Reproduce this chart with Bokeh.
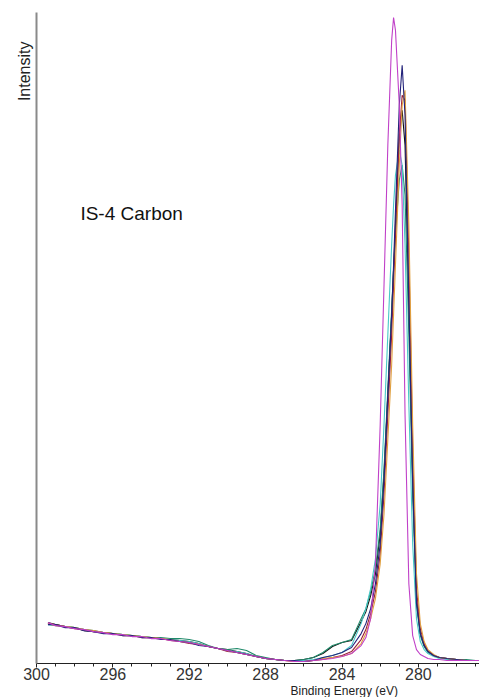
from bokeh.plotting import figure
from bokeh.models import Range1d, FixedTicker, Label, Title
from bokeh.embed import file_html
from bokeh.resources import INLINE

binding_energy = [299.4, 299.0, 298.5, 298.0, 297.5, 297.0, 296.5, 296.0, 295.5, 295.0,
                  294.5, 294.0, 293.5, 293.0, 292.5, 292.0, 291.5, 291.0, 290.5, 290.0,
                  289.5, 289.0, 288.5, 288.0, 287.5, 287.0, 286.5, 286.0, 285.5, 285.0,
                  284.5, 284.0, 283.5, 283.0, 282.75, 282.5, 282.25, 282.0, 281.8, 281.6,
                  281.4, 281.3, 281.2, 281.0, 280.85, 280.7, 280.5, 280.3, 280.1, 279.9,
                  279.7, 279.5, 279.2, 278.9, 278.5, 278.0, 277.5, 277.0, 276.8]

black = [41, 39, 37, 36, 33, 32, 31, 30, 29, 28, 27, 26, 25, 24, 23, 22, 20, 17, 15, 14,
         12, 10, 7, 5, 4, 3, 3, 4, 6, 10, 17, 21, 23, 42, 52, 68, 90, 130, 190, 270,
         350, 395, 440, 530, 555, 520, 360, 185, 65, 30, 18, 12, 8, 6, 5, 4, 3, 3, 3]
green = [40, 39, 37, 36, 34, 33, 31, 30, 29, 28, 27, 26, 26, 25, 25, 24, 22, 18, 15, 14,
         15, 13, 8, 6, 4, 3, 3, 4, 6, 11, 18, 21, 24, 45, 55, 72, 95, 135, 195, 275,
         355, 395, 430, 485, 500, 470, 330, 170, 60, 28, 17, 11, 8, 6, 5, 4, 4, 3, 3]
cyan = [39, 38, 37, 36, 34, 32, 31, 30, 29, 28, 27, 26, 25, 24, 23, 22, 20, 17, 15, 13,
        12, 10, 7, 5, 4, 3, 3, 3, 4, 6, 8, 11, 18, 40, 55, 75, 105, 160, 240, 330,
        420, 460, 490, 515, 500, 420, 260, 120, 45, 22, 14, 10, 7, 5, 4, 4, 3, 3, 3]
maroon = [40, 39, 37, 35, 34, 32, 31, 30, 28, 28, 26, 26, 25, 23, 22, 20, 19, 17, 15, 12,
          11, 9, 7, 5, 4, 3, 2, 2, 3, 4, 6, 8, 12, 24, 34, 50, 72, 110, 170, 250,
          330, 380, 430, 530, 570, 565, 410, 215, 75, 35, 20, 13, 8, 6, 5, 4, 3, 3, 3]
orange = [40, 38, 37, 36, 34, 33, 31, 30, 29, 28, 27, 26, 25, 24, 22, 21, 19, 17, 15, 13,
          11, 9, 7, 5, 4, 3, 2, 2, 3, 5, 6, 7, 10, 20, 30, 45, 65, 100, 150, 225,
          300, 350, 400, 500, 560, 575, 440, 240, 90, 40, 22, 14, 9, 6, 5, 4, 3, 3, 3]
navy = [39, 39, 36, 36, 33, 32, 30, 30, 28, 28, 26, 26, 24, 24, 22, 21, 18, 17, 15, 13,
        11, 9, 7, 5, 4, 3, 3, 2, 3, 6, 8, 11, 16, 30, 40, 55, 80, 120, 185, 270,
        350, 400, 455, 560, 600, 550, 360, 180, 60, 30, 18, 12, 8, 6, 5, 4, 3, 3, 3]
magenta = [41, 38, 37, 35, 34, 32, 31, 29, 29, 27, 27, 25, 25, 23, 22, 21, 19, 17, 15, 13,
           11, 9, 7, 5, 4, 3, 2, 2, 3, 4, 5, 7, 10, 18, 26, 45, 100, 240, 380, 520,
           625, 648, 635, 560, 460, 250, 80, 28, 14, 9, 7, 5, 4, 4, 3, 3, 3, 3, 3]

series = [
    (black, "#101010"),
    (green, "#1f8a6a"),
    (cyan, "#48c8c8"),
    (maroon, "#9a1f3a"),
    (orange, "#e0a040"),
    (navy, "#23237a"),
    (magenta, "#c040c8"),
]

major_ticks = [300, 296, 292, 288, 284, 280]
minor_ticks = list(range(277, 301))

p = figure(width=479, height=697, output_backend="svg", toolbar_location=None,
           x_range=Range1d(300, 276.8), y_range=Range1d(0, 653),
           min_border_left=36, min_border_right=0, min_border_top=12, min_border_bottom=0)
p.outline_line_color = None
p.xgrid.visible = False
p.ygrid.visible = False
p.background_fill_color = "white"

for ys, col in series:
    p.line(binding_energy, ys, line_color=col, line_width=1.1)

# x axis
p.xaxis.ticker = FixedTicker(ticks=major_ticks, minor_ticks=minor_ticks)
p.xaxis.axis_line_color = "#222222"
p.xaxis.major_tick_line_color = "#222222"
p.xaxis.minor_tick_line_color = "#222222"
p.xaxis.major_tick_out = 4
p.xaxis.major_tick_in = 0
p.xaxis.minor_tick_out = 3
p.xaxis.minor_tick_in = 0
p.xaxis.major_label_text_font = "Liberation Sans"
p.xaxis.major_label_text_font_size = "16px"
p.xaxis.major_label_text_color = "#333333"
p.xaxis.major_label_standoff = 0

# y axis
p.yaxis.ticker = FixedTicker(ticks=[])
p.yaxis.axis_line_color = "#8a8a8a"
p.yaxis.axis_line_width = 2
p.yaxis.major_tick_line_color = None
p.yaxis.minor_tick_line_color = None
p.yaxis.major_label_text_color = None
p.yaxis.major_tick_out = 0
p.yaxis.major_label_standoff = 0

p.add_layout(Title(text="Intensity", align="right", offset=29,
                   text_font="Liberation Sans", text_font_size="16px",
                   text_font_style="normal", text_color="#222222",
                   standoff=8), "left")

p.add_layout(Title(text="Binding Energy (eV)", align="left", offset=254,
                   text_font="Liberation Sans", text_font_size="12px",
                   text_font_style="normal", text_color="#222222",
                   standoff=-1), "below")

p.add_layout(Label(x=297.7, y=451, text="IS-4 Carbon", text_font="Liberation Sans",
                   text_font_size="19px", text_baseline="middle", text_align="left",
                   text_color="#111111"))

open("out.html", "w").write(file_html(p, INLINE))
